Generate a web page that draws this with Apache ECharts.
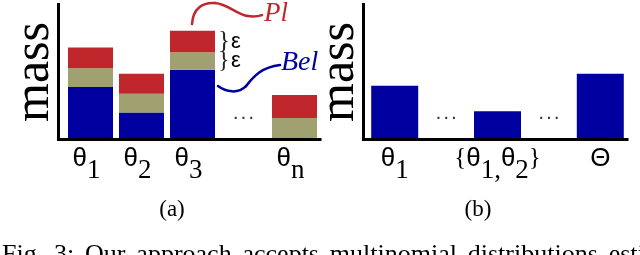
<!DOCTYPE html>
<html><head><meta charset="utf-8">
<script src="https://cdn.jsdelivr.net/npm/echarts@6/dist/echarts.min.js"></script>
<style>html,body{margin:0;padding:0;background:#fff}#c{width:640px;height:255px}</style>
</head><body><div id="c"></div>
<script>
// ---- data ----
const catsA = ['θ1', 'θ2', 'θ3', '', 'θn'];
const belA  = [0.38, 0.19, 0.51, null, 0];
const eps1A = [0.14, 0.14, 0.13, null, 0.15];
const eps2A = [0.155, 0.15, 0.16, null, 0.17];
const catsB = ['θ1', '', '{θ1,θ2}', '', 'Θ'];
const massB = [0.39, null, 0.20, null, 0.48];
const captionA = '(a)';
const captionB = '(b)';
const figCaption = 'Fig. 3: Our approach accepts multinomial distributions estimated';

// ---- styles ----
const BLUE = '#0000a0', OLIVE = '#a0a070', RED = '#c0272d';
const SERIF = '"Liberation Serif", "Times New Roman", serif';
const SANS = '"Liberation Sans", Arial, sans-serif';
const DOT_LEVEL = 0.17;

function fmtLabel(v) {
  return v.replace(/θ([0-9n]+,?)/g, '{t|θ}{s|$1}').replace(/Θ/g, '{t|Θ}');
}
function labelStyle(padRight) {
  return {
    interval: 0, margin: 5, color: '#000', padding: [0, padRight, 0, 0],
    fontFamily: SERIF, fontSize: 25, lineHeight: 31,
    formatter: fmtLabel,
    rich: {
      t: {fontFamily: SANS, fontSize: 26, lineHeight: 31, color: '#000'},
      s: {fontFamily: SERIF, fontSize: 27, lineHeight: 31, height: 6, verticalAlign: 'bottom', color: '#000'}
    }
  };
}
const axLine = {show: true, onZero: false, lineStyle: {color: '#000', width: 3, cap: 'square'}};

function catAxis(grid, cats, padRight) {
  return {type: 'category', gridIndex: grid, data: cats, boundaryGap: true,
    axisLine: {show: false}, axisTick: {show: false}, splitLine: {show: false},
    axisLabel: labelStyle(padRight)};
}
function lineXAxis(grid) {
  return {type: 'value', gridIndex: grid, min: 0, max: 1, axisLine: axLine,
    axisTick: {show: false}, axisLabel: {show: false}, splitLine: {show: false}};
}
function barYAxis(grid) {
  return {type: 'value', gridIndex: grid, min: 0, max: 1, show: false, splitLine: {show: false}};
}
function lineYAxis(grid) {
  return {type: 'value', gridIndex: grid, min: 0, max: 1, axisLine: axLine,
    axisTick: {show: false}, axisLabel: {show: false}, splitLine: {show: false},
    name: 'mass', nameLocation: 'middle', nameRotate: 90, nameGap: -1,
    nameTextStyle: {fontFamily: SERIF, fontSize: 50, color: '#000'}};
}
function dots(cats, xi, yi) {
  return {type: 'scatter', xAxisIndex: xi, yAxisIndex: yi, symbolSize: 0, silent: true,
    data: cats.map((c, i) => c === '' ? [i, DOT_LEVEL] : null).filter(d => d),
    label: {show: true, position: 'inside', formatter: '. . .', color: '#000',
      fontFamily: SANS, fontWeight: 'bold', fontSize: 14}};
}

const chart = echarts.init(document.getElementById('c'), null, {renderer: 'canvas'});
chart.setOption({
  animation: false,
  backgroundColor: '#fff',
  grid: [
    {left: 65, top: 4, width: 255, height: 134},
    {left: 58.5, top: 4.5, width: 261.5, height: 135},
    {left: 369, top: 4, width: 257, height: 134},
    {left: 363.5, top: 4.5, width: 263.5, height: 135}
  ],
  xAxis: [catAxis(0, catsA, 8), lineXAxis(1), catAxis(2, catsB, 0), lineXAxis(3)],
  yAxis: [barYAxis(0), lineYAxis(1), barYAxis(2), lineYAxis(3)],
  series: [
    {type: 'bar', name: 'Bel', stack: 'a', xAxisIndex: 0, yAxisIndex: 0, barWidth: 45, data: belA, itemStyle: {color: BLUE}},
    {type: 'bar', name: 'eps1', stack: 'a', xAxisIndex: 0, yAxisIndex: 0, barWidth: 45, data: eps1A, itemStyle: {color: OLIVE}},
    {type: 'bar', name: 'eps2', stack: 'a', xAxisIndex: 0, yAxisIndex: 0, barWidth: 45, data: eps2A, itemStyle: {color: RED}},
    dots(catsA, 0, 0),
    {type: 'bar', name: 'mass', xAxisIndex: 2, yAxisIndex: 2, barWidth: 47, data: massB, itemStyle: {color: BLUE}},
    dots(catsB, 2, 2)
  ]
});

// annotations anchored on bar θ3 of chart (a)
const i3 = 2;
const top3 = belA[i3] + eps1A[i3] + eps2A[i3];
const mid3 = belA[i3] + eps1A[i3];
const pTop = chart.convertToPixel({xAxisIndex: 0, yAxisIndex: 0}, [i3, top3]);
const pMid = chart.convertToPixel({xAxisIndex: 0, yAxisIndex: 0}, [i3, mid3]);
const pBel = chart.convertToPixel({xAxisIndex: 0, yAxisIndex: 0}, [i3, belA[i3]]);
const dx = pTop[0] - 194.5, dy = pTop[1] - 30.7;
const right3 = pTop[0] + 22.5;
function bez(a, color) { // a = [x1,y1,cx1,cy1,cx2,cy2,x2,y2] in reference coords
  return {type: 'bezierCurve', shape: {x1: a[0] + dx, y1: a[1] + dy, cpx1: a[2] + dx, cpy1: a[3] + dy,
    cpx2: a[4] + dx, cpy2: a[5] + dy, x2: a[6] + dx, y2: a[7] + dy},
    style: {stroke: color, lineWidth: 2.5, fill: null, lineCap: 'round'}};
}
const txt = (x, y, style) => ({type: 'text', x, y, style: Object.assign({fill: '#000'}, style)});
chart.setOption({
  graphic: [
    bez([194, 24, 195, 8, 205, 2, 217, 3], RED),
    bez([217, 3, 230, 4, 238, 14, 250, 16], RED),
    bez([250, 16, 256, 17, 261, 16, 264, 15], RED),
    bez([220, 86, 228, 92, 240, 94, 248, 86], BLUE),
    bez([248, 86, 256, 76, 264, 67, 282, 65], BLUE),
    txt(266 + dx, 27 + dy, {text: 'Pl', fill: RED, fontFamily: SERIF, fontStyle: 'italic', fontSize: 27, textVerticalAlign: 'bottom'}),
    txt(283 + dx, 77 + dy, {text: 'Bel', fill: BLUE, fontFamily: SERIF, fontStyle: 'italic', fontSize: 28, textVerticalAlign: 'bottom'}),
    txt(right3 + 3, (pTop[1] + pMid[1]) / 2, {text: '}', fill: '#222', fontFamily: SERIF, fontSize: 25, textVerticalAlign: 'middle'}),
    txt(right3 + 3, (pMid[1] + pBel[1]) / 2, {text: '}', fill: '#222', fontFamily: SERIF, fontSize: 24, textVerticalAlign: 'middle'}),
    txt(right3 + 16, (pTop[1] + pMid[1]) / 2, {text: 'ε', fontFamily: SANS, fontSize: 22, textVerticalAlign: 'middle'}),
    txt(right3 + 16, (pMid[1] + pBel[1]) / 2, {text: 'ε', fontFamily: SANS, fontSize: 22, textVerticalAlign: 'middle'}),
    txt(172, 210, {text: captionA, fontFamily: SERIF, fontSize: 23, textAlign: 'center', textVerticalAlign: 'middle'}),
    txt(478, 210, {text: captionB, fontFamily: SERIF, fontSize: 23, textAlign: 'center', textVerticalAlign: 'middle'}),
    txt(2, 242, {text: figCaption.replace(/ /g, '\u2004\u200A'), fontFamily: SERIF, fontSize: 26, textVerticalAlign: 'top'})
  ]
});
</script>
</body></html>
